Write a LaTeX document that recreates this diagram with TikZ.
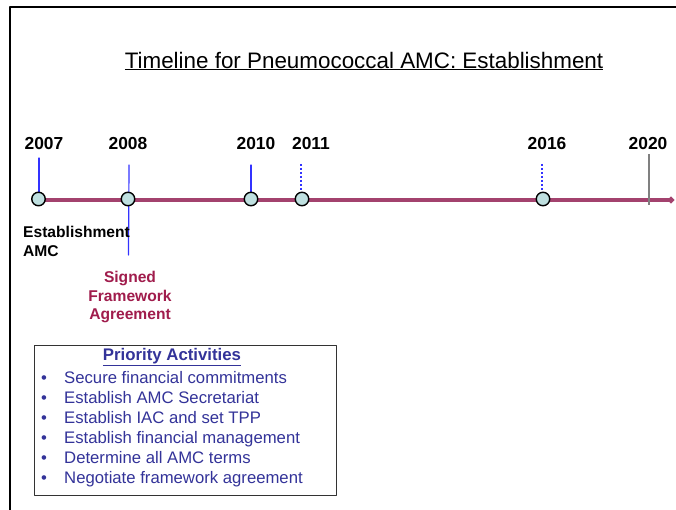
\documentclass[tikz,border=0pt]{standalone}
\usepackage{fontspec}
\setmainfont{Liberation Sans}
\usetikzlibrary{arrows.meta}
\definecolor{lineplum}{HTML}{A3426E}
\definecolor{dotfill}{HTML}{BFE0E0}
\definecolor{tickblue}{HTML}{3333FF}
\definecolor{signred}{HTML}{A01C4C}
\definecolor{listblue}{HTML}{333399}
\tikzset{
  year/.style={font=\fontsize{17.4}{20}\selectfont\bfseries,inner sep=0pt},
  dot/.style={circle,draw=black,fill=dotfill,line width=1.4pt,minimum size=13.5pt,inner sep=0pt},
  tick/.style={tickblue,line width=1.2pt},
  dtick/.style={tickblue,line width=1.5pt,line cap=butt,dash pattern=on 2.5pt off 1.5pt},
  note/.style={font=\fontsize{15.6}{18.5}\selectfont\bfseries,inner sep=0pt},
  item/.style={font=\fontsize{16.7}{20}\selectfont,text=listblue,inner sep=0pt,anchor=base west}
}
\begin{document}
\begin{tikzpicture}[>=stealth,line join=round,line cap=round,x=1pt,y=-1pt]
    \useasboundingbox (0,0) rectangle (676,510);
    \fill[white] (0,0) rectangle (676,510);
    % frame
    \draw[line width=2.6pt,line cap=butt] (10,510) -- (10,7) -- (676,7);
    % title
    \node[font=\fontsize{22.4}{26}\selectfont,inner sep=0pt] (title) at (364,61) {\underline{Timeline for Pneumococcal AMC: Establishment}};
    % time axis
    \coordinate (axstart) at (38,200);
    \coordinate (axend) at (674,200);
    \draw[lineplum,line width=4pt,line cap=butt,-{Circle[length=6pt,width=6pt]}] (axstart) -- (axend);
    \draw[black!50,line width=1.8pt,line cap=butt] (649,154) -- (649,205);
    % years
    \node[year] (y07) at (44,144) {2007};
    \node[year] (y08) at (128,144) {2008};
    \node[year] (y10) at (256,144) {2010};
    \node[year] (y11) at (311,144) {2011};
    \node[year] (y16) at (547,144) {2016};
    \node[year] (y20) at (648,144) {2020};
    % ticks
    \coordinate (t07) at (39,158);
    \coordinate (t08) at (129,165);
    \coordinate (b08) at (128.5,255);
    \coordinate (t10) at (251,165);
    \coordinate (t11) at (301,164);
    \coordinate (t16) at (542,164);
    \draw[tick] (t07) -- (39,195);
    \draw[tick] (t08) -- (b08);
    \draw[tick] (t10) -- (251,195);
    \draw[dtick] (t11) -- (301,194);
    \draw[dtick] (t16) -- (542,194);
    % milestones
    \node[dot] (d07) at (38.5,199) {};
    \node[dot] (d08) at (128,199) {};
    \node[dot] (d10) at (251,199) {};
    \node[dot] (d11) at (302,199) {};
    \node[dot] (d16) at (543,199) {};
    % notes
    \node[note,anchor=north west,align=left] (est) at (23,226) {Establishment\\AMC};
    \node[note,text=signred,align=center,anchor=north] (sign) at (130,271) {Signed\\Framework\\Agreement};
    % priority box
    \node[draw=black!80,line width=1.2pt,anchor=north west,minimum width=302pt,minimum height=150pt,inner sep=0pt] (prio) at (34,345) {};
    \node[font=\fontsize{16.8}{20}\selectfont\bfseries,text=listblue,inner sep=0pt] (priotitle) at (172,357) {\underline{Priority Activities}};
    \foreach \txt [count=\i] in {Secure financial commitments,Establish AMC Secretariat,Establish IAC and set TPP,Establish financial management,Determine all AMC terms,Negotiate framework agreement}
    {
      \node[item] (b\i) at (41,{363+20*\i}) {\textbullet};
      \node[item] (i\i) at (64,{363+20*\i}) {\txt};
    }
\end{tikzpicture}
\end{document}
